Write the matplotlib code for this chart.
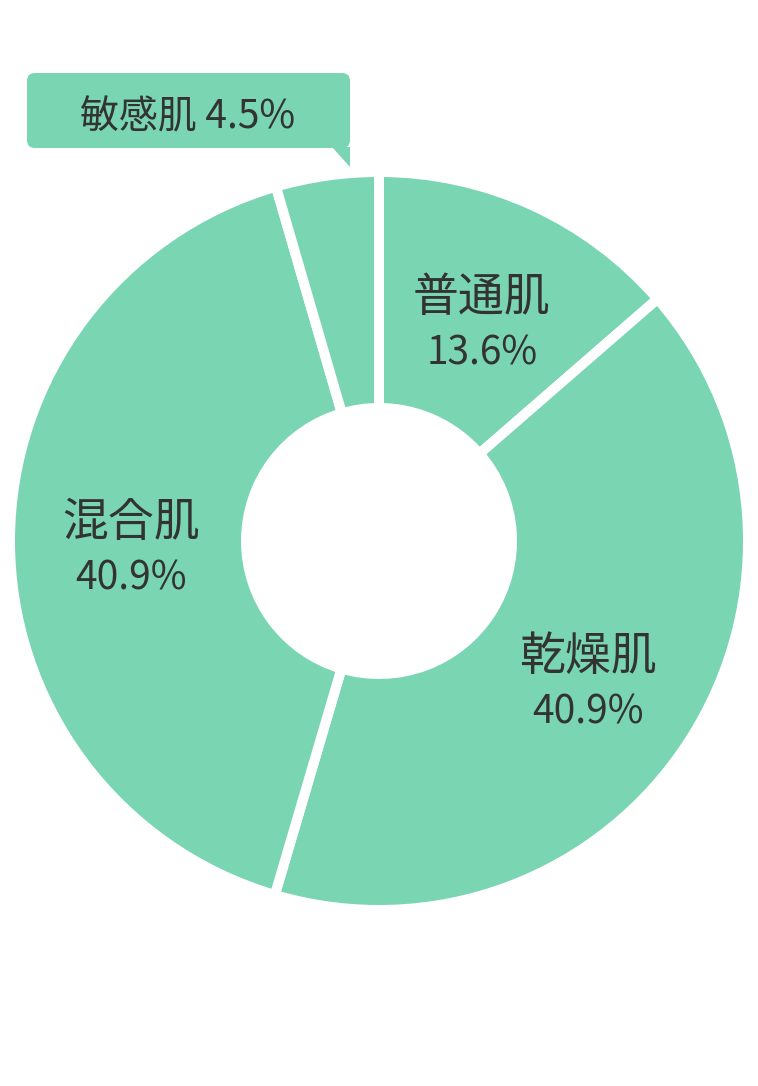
import matplotlib.pyplot as plt
import numpy as np
from matplotlib.patches import FancyBboxPatch, Polygon

plt.rcParams['font.family'] = ['Noto Sans CJK JP', 'DejaVu Sans']

# skin type shares (%)
labels = ['普通肌', '乾燥肌', '混合肌', '敏感肌']
shares = [13.6, 40.9, 40.9, 4.5]
pct_labels = ['13.6%', '40.9%', '40.9%', '4.5%']

green = '#79d5b2'
ink = '#333333'

W, H = 758, 1086
fig = plt.figure(figsize=(W / 100, H / 100), dpi=100)
ax = fig.add_axes([0, 0, 1, 1])

cx, cy = 379, H - 541
r_out, r_in = 364, 138
gap = 10    # white gap between slices, px

wedges, _ = ax.pie(shares, center=(cx, cy), radius=r_out + gap / 2,
                   startangle=90, counterclock=False, colors=[green] * len(shares),
                   wedgeprops=dict(width=r_out - r_in + gap, edgecolor='white',
                                   linewidth=gap * 0.72),
                   frame=True)
ax.set_xlim(0, W)
ax.set_ylim(0, H)
ax.set_aspect('equal')
ax.axis('off')

# labels inside the three big slices
r_lab = 248
for w, name, pct in zip(wedges[:3], labels[:3], pct_labels[:3]):
    theta = np.deg2rad((w.theta1 + w.theta2) / 2)
    x = cx + r_lab * np.cos(theta)
    y = cy + r_lab * np.sin(theta)
    ax.text(x, y + 18, name, ha='center', va='center', fontsize=33, color=ink)
    ax.text(x, y - 38, pct, ha='center', va='center', fontsize=28, color=ink)

# callout for the small slice
bx0, bx1, by0, by1 = 27, 350, H - 148, H - 73
rad = 8
box = FancyBboxPatch((bx0 + rad, by0 + rad), bx1 - bx0 - 2 * rad, by1 - by0 - 2 * rad,
                     boxstyle=f'round,pad={rad}', facecolor=green, edgecolor='none')
ax.add_patch(box)
ax.add_patch(Polygon([(332, by0 + 1), (bx1, by0 + 1), (bx1, H - 167)],
                     closed=True, facecolor=green, edgecolor='none'))
ax.text(188, H - 117, f'{labels[3]} {pct_labels[3]}', ha='center', va='center',
        fontsize=28, color=ink)

plt.savefig('out.png', dpi=100)
